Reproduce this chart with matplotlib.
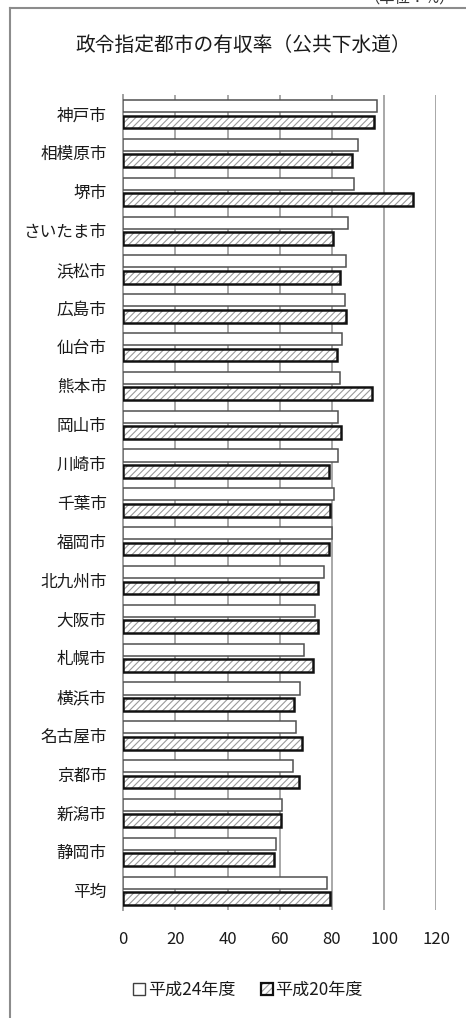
import matplotlib
matplotlib.use("Agg")
import matplotlib.pyplot as plt
from matplotlib.patches import Patch
from matplotlib.lines import Line2D
import numpy as np

plt.rcParams['font.family'] = ['Noto Sans CJK JP', 'DejaVu Sans']
plt.rcParams['hatch.linewidth'] = 0.8

cities = ['神戸市', '相模原市', '堺市', 'さいたま市', '浜松市', '広島市', '仙台市',
          '熊本市', '岡山市', '川崎市', '千葉市', '福岡市', '北九州市', '大阪市',
          '札幌市', '横浜市', '名古屋市', '京都市', '新潟市', '静岡市', '平均']
h24 = [97.3, 90.1, 88.6, 86.0, 85.5, 85.0, 83.7, 82.9, 82.4, 82.4, 80.6, 79.9,
       76.8, 73.5, 69.4, 67.9, 66.1, 64.9, 60.7, 58.7, 78.1]
h20 = [96.3, 87.6, 110.9, 80.5, 83.0, 85.3, 82.0, 95.3, 83.5, 78.9, 79.2, 78.7,
       74.6, 74.6, 72.8, 65.6, 68.5, 67.2, 60.3, 57.7, 79.2]
xticks = [0, 20, 40, 60, 80, 100, 120]
series_names = ['平成24年度', '平成20年度']
title = '政令指定都市の有収率（公共下水道）'
unit = '（単位：%）'

W, H = 466, 1018
fig = plt.figure(figsize=(W / 100, H / 100), dpi=100)

# outer frame (partially cropped in reference)
fig.add_artist(Line2D([10 / W, 10 / W], [1 - 8 / H, 0], transform=fig.transFigure,
                      color='#8c8c8c', lw=1.5))
fig.add_artist(Line2D([10 / W, 1], [1 - 8 / H, 1 - 8 / H], transform=fig.transFigure,
                      color='#8c8c8c', lw=1.5))
fig.text(455 / W, 1 + 2 / H, unit, ha='right', va='center', fontsize=11, color='#333333')

ax = fig.add_axes([123.3 / W, 1 - 910 / H, 313 / W, (910 - 94.6) / H])
y = np.arange(len(cities))
off = 0.205

ax.barh(y - off, h24, height=0.31, color='white', edgecolor='#505050', lw=1.1, zorder=3)
hb = ax.barh(y + off, h20, height=0.33, color='white', edgecolor='#9a9a9a', hatch='/////',
             lw=0, zorder=3)
eb = ax.barh(y + off, h20, height=0.33, color='none', edgecolor='#111111', lw=1.8, zorder=4)

ax.set_xlim(0, 120)
ax.set_ylim(len(cities) - 0.5, -0.5)
ax.set_xticks(xticks)
ax.set_xticklabels([str(t) for t in xticks])
ax.set_yticks(y)
ax.set_yticklabels(cities)
ax.tick_params(axis='both', length=0, labelsize=12, colors='#1a1a1a')
ax.tick_params(axis='x', pad=15)
ax.tick_params(axis='y', pad=12)
ax.grid(axis='x', color='#a8a8a8', lw=1.4, zorder=0)
ax.set_axisbelow(True)
for s in ['top', 'right', 'bottom']:
    ax.spines[s].set_visible(False)
ax.spines['left'].set_color('#a0a0a0')
ax.spines['left'].set_linewidth(1.4)

fig.text(243 / W, 1 - 45 / H, title, ha='center', va='center', fontsize=14.2, color='#1a1a1a')

h_white = Patch(facecolor='white', edgecolor='#404040', lw=1.0)
h_hatch = Patch(facecolor='white', edgecolor='#9a9a9a', hatch='/////', lw=0)
h_edge = Patch(facecolor='none', edgecolor='#111111', lw=1.6)
fig.legend([h_white, (h_hatch, h_edge)], series_names, loc='center',
           bbox_to_anchor=(248 / W, 1 - 990 / H), ncol=2, frameon=False, fontsize=12.3,
           handlelength=0.7, handleheight=0.7, handletextpad=0.15, columnspacing=1.5,
           labelcolor='#1a1a1a')

fig.savefig('out.png', dpi=100)
